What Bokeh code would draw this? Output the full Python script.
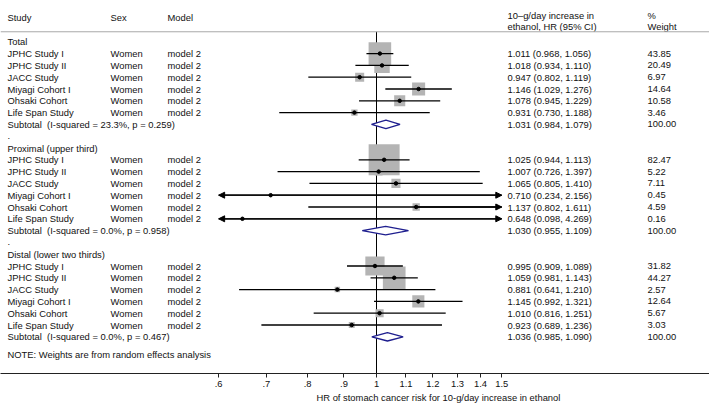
import numpy as np
from bokeh.plotting import figure
from bokeh.models import (Range1d, LinearScale, FixedTicker, ColumnDataSource,
                          Span, Arrow, NormalHead, Title)
from bokeh.embed import file_html
from bokeh.resources import INLINE

# ---------------- data ----------------
studies = ["JPHC Study I", "JPHC Study II", "JACC Study",
           "Miyagi Cohort I", "Ohsaki Cohort", "Life Span Study"]
sexes = ["Women", "Women", "Women", "Women", "Women", "Women"]
models = ["model 2", "model 2", "model 2", "model 2", "model 2", "model 2"]
groups = ["Total", "Proximal (upper third)", "Distal (lower two thirds)"]

total_hr = [1.011, 1.018, 0.947, 1.146, 1.078, 0.931]
total_lo = [0.968, 0.934, 0.802, 1.029, 0.945, 0.730]
total_hi = [1.056, 1.110, 1.119, 1.276, 1.229, 1.188]
total_wt = [43.85, 20.49, 6.97, 14.64, 10.58, 3.46]
total_sub = [1.031, 0.984, 1.079]
total_het = "I-squared = 23.3%, p = 0.259"

prox_hr = [1.025, 1.007, 1.065, 0.710, 1.137, 0.648]
prox_lo = [0.944, 0.726, 0.805, 0.234, 0.802, 0.098]
prox_hi = [1.113, 1.397, 1.410, 2.156, 1.611, 4.269]
prox_wt = [82.47, 5.22, 7.11, 0.45, 4.59, 0.16]
prox_sub = [1.030, 0.955, 1.109]
prox_het = "I-squared = 0.0%, p = 0.958"

dist_hr = [0.995, 1.059, 0.881, 1.145, 1.010, 0.923]
dist_lo = [0.909, 0.981, 0.641, 0.992, 0.816, 0.689]
dist_hi = [1.089, 1.143, 1.210, 1.321, 1.251, 1.236]
dist_wt = [31.82, 44.27, 2.57, 12.64, 5.67, 3.03]
dist_sub = [1.036, 0.985, 1.090]
dist_het = "I-squared = 0.0%, p = 0.467"

tick_vals = [0.6, 0.7, 0.8, 0.9, 1.0, 1.1, 1.2, 1.3, 1.4, 1.5]
tick_labels = [".6", ".7", ".8", ".9", "1", "1.1", "1.2", "1.3", "1.4", "1.5"]
NULL_HR = 1.0

header_study = ["Study", "Sex", "Model"]
header_hr = ["10\u2013g/day increase in", "ethanol, HR (95% CI)"]
header_wt = ["%", "Weight"]
note = "NOTE: Weights are from random effects analysis"
x_title = "HR of stomach cancer risk for 10-g/day increase in ethanol"

# ---------------- layout ----------------
W, H = 709, 405
FONT = "Liberation Sans"
FS = "9.4px"
PX_PER_LN = 309.0
X_NULL_PX = 376.0
x_start = float(np.exp(-X_NULL_PX / PX_PER_LN))
x_end = float(np.exp((W - X_NULL_PX) / PX_PER_LN))
COL_STUDY, COL_SEX, COL_MODEL, COL_HR, COL_WT = 7, 110, 167, 507, 647
BOX_K = 3.41
DIAM_H = 0.36
NAVY = "#1f1f8f"
BOX_GRAY = "#b4b4b4"
TEXT_C = "#111111"

p = figure(width=W, height=H, x_axis_type="log",
           x_range=Range1d(x_start, x_end), y_range=Range1d(28.11, -3.5),
           y_axis_location=None, output_backend="svg", toolbar_location=None,
           min_border_left=0, min_border_right=0, min_border_top=0,
           min_border_bottom=32)
p.extra_x_ranges = {"px": Range1d(0, W)}
p.extra_x_scales = {"px": LinearScale()}
p.grid.visible = False
p.outline_line_color = None
p.background_fill_color = "white"
p.border_fill_color = "white"

tmin, tmax = min(tick_vals), max(tick_vals)

group_data = [
    (total_hr, total_lo, total_hi, total_wt, total_sub, total_het),
    (prox_hr, prox_lo, prox_hi, prox_wt, prox_sub, prox_het),
    (dist_hr, dist_lo, dist_hi, dist_wt, dist_sub, dist_het),
]

txt = dict(x=[], y=[], text=[])
def add_text(x, y, t):
    txt["x"].append(x); txt["y"].append(y); txt["text"].append(t)

est = dict(y=[], hr=[], l=[], r=[], size=[])
left_arrows = dict(xs=[], ys=[], xe=[], ye=[])
right_arrows = dict(xs=[], ys=[], xe=[], ye=[])
diam_xs, diam_ys = [], []

row = 0
for gi, (g, (hr, lo, hi, wt, sub, het)) in enumerate(zip(groups, group_data)):
    if gi > 0:
        add_text(COL_STUDY, row, ".")
        row += 1
    add_text(COL_STUDY, row, g)
    row += 1
    for s, sx, m, h, l, u, w in zip(studies, sexes, models, hr, lo, hi, wt):
        add_text(COL_STUDY, row, s)
        add_text(COL_SEX, row, sx)
        add_text(COL_MODEL, row, m)
        add_text(COL_HR, row, f"{h:.3f} ({l:.3f}, {u:.3f})")
        add_text(COL_WT, row, f"{w:.2f}")
        est["y"].append(row); est["hr"].append(h)
        est["l"].append(max(l, tmin)); est["r"].append(min(u, tmax))
        est["size"].append(BOX_K * np.sqrt(w))
        if l < tmin:
            left_arrows["xs"].append(h); left_arrows["ys"].append(row)
            left_arrows["xe"].append(tmin); left_arrows["ye"].append(row)
        if u > tmax:
            right_arrows["xs"].append(h); right_arrows["ys"].append(row)
            right_arrows["xe"].append(tmax); right_arrows["ye"].append(row)
        row += 1
    add_text(COL_STUDY, row, f"Subtotal\u00a0 ({het})")
    add_text(COL_HR, row, f"{sub[0]:.3f} ({sub[1]:.3f}, {sub[2]:.3f})")
    add_text(COL_WT, row, f"{100:.2f}")
    diam_xs.append([sub[1], sub[0], sub[2], sub[0]])
    diam_ys.append([row, row - DIAM_H, row, row + DIAM_H])
    row += 1
last_row = row - 1

HEAD_ROW = -2.06
HEAD_ROW1, HEAD_ROW2 = -2.23, -1.30
LINE_ROW = -0.85
for x, t in zip([COL_STUDY, COL_SEX, COL_MODEL], header_study):
    add_text(x, HEAD_ROW, t)
add_text(COL_HR, HEAD_ROW1, header_hr[0])
add_text(COL_HR, HEAD_ROW2, header_hr[1])
add_text(COL_WT, HEAD_ROW1, header_wt[0])
add_text(COL_WT, HEAD_ROW2, header_wt[1])
add_text(COL_STUDY, last_row + 1.5, note)

# header rule
p.add_layout(Span(location=LINE_ROW, dimension="width",
                  line_color="#a8a8a8", line_width=1))
# null line
p.segment(x0=[NULL_HR], y0=[LINE_ROW], x1=[NULL_HR], y1=[p.y_range.start],
          line_color="black", line_width=1)

src = ColumnDataSource(est)
p.scatter("hr", "y", source=src, size="size", marker="square",
          fill_color=BOX_GRAY, line_color=None)
p.segment(x0="l", y0="y", x1="r", y1="y", source=src,
          line_color="black", line_width=1.3)
for d in (left_arrows, right_arrows):
    if d["xs"]:
        p.add_layout(Arrow(x_start="xs", y_start="ys", x_end="xe", y_end="ye",
                           source=ColumnDataSource(d), line_color="black",
                           line_width=1.3,
                           end=NormalHead(size=6, fill_color="black",
                                          line_color="black", line_width=1)))
p.scatter("hr", "y", source=src, size=3.5, marker="circle",
          fill_color="black", line_color="black")

p.patches(xs=diam_xs, ys=diam_ys, fill_color="white", line_color=NAVY,
          line_width=1.4)

p.text(x="x", y="y", text="text", source=ColumnDataSource(txt),
       x_range_name="px", text_font={"value": FONT}, text_font_size=FS,
       text_color=TEXT_C, text_baseline="middle", text_align="left")

# axis
ax = p.xaxis[0]
ax.ticker = FixedTicker(ticks=tick_vals, minor_ticks=[])
ax.major_label_overrides = {v: t for v, t in zip(tick_vals, tick_labels)}
ax.axis_line_color = "#222222"
ax.major_tick_line_color = "#222222"
ax.major_tick_out = 4
ax.major_tick_in = 0
ax.minor_tick_out = 0
ax.minor_tick_in = 0
ax.major_label_standoff = 3
ax.major_label_text_font = FONT
ax.major_label_text_font_size = FS
ax.major_label_text_color = TEXT_C

p.add_layout(Title(text=x_title, align="left", offset=316, standoff=0,
                   text_font=FONT, text_font_size=FS, text_font_style="normal",
                   text_color=TEXT_C), "below")

open("out.html", "w").write(file_html(p, INLINE))
